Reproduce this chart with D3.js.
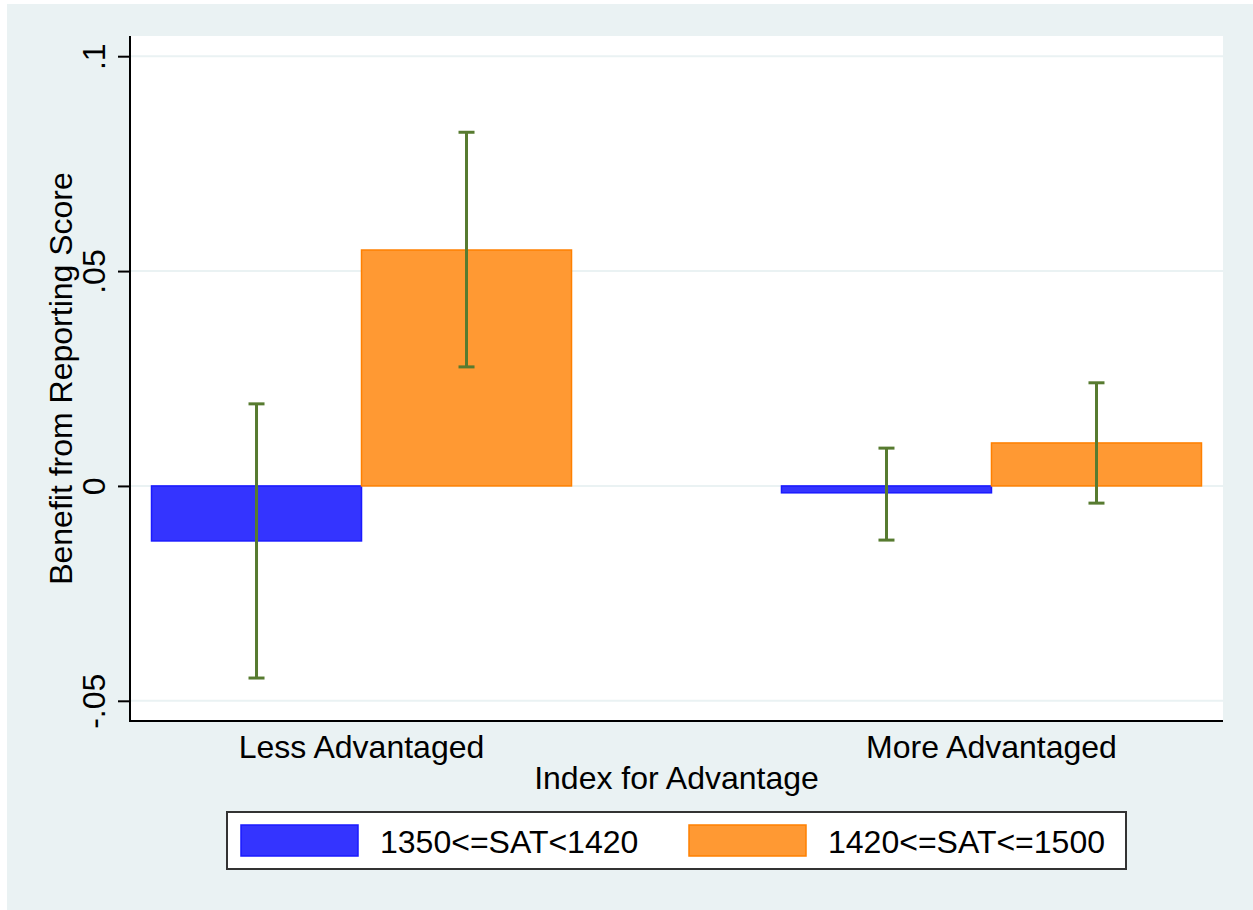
<!DOCTYPE html>
<html>
<head>
    <meta charset="utf-8">
    <script src="https://cdn.jsdelivr.net/npm/d3@7"></script>
    <style>
        body { margin: 0; background: #fff; }
        text { font-family: "Liberation Sans", Arial, sans-serif; fill: #000; }
    </style>
</head>
<body>
<svg width="1253" height="910"></svg>
<script>
    // data
    const groups = ["Less Advantaged", "More Advantaged"];
    const series = ["1350<=SAT<1420", "1420<=SAT<=1500"];
    const lowSat = [-0.0128, -0.0016];   // blue bars
    const highSat = [0.0549, 0.0100];    // orange bars
    const lowSatCiLo = [-0.0447, -0.0126];
    const lowSatCiHi = [0.0191, 0.0088];
    const highSatCiLo = [0.0277, -0.0040];
    const highSatCiHi = [0.0823, 0.0240];
    const yTicks = [-0.05, 0, 0.05, 0.1];
    const yTickLabels = ["-.05", "0", ".05", ".1"];

    const colors = [{fill: "#3434ff", stroke: "#1a1aff"}, {fill: "#ff9933", stroke: "#ff8000"}];
    const errColor = "#577b30";
    const bg = "#eaf2f3";
    const fs = "32px";

    const svg = d3.select("svg");
    const plotL = 130, plotR = 1223, plotT = 36, plotB = 721;
    const barW = 210;

    svg.append("rect").attr("x", 7).attr("y", 4).attr("width", 1246).attr("height", 906).attr("fill", bg);
    svg.append("rect").attr("x", plotL).attr("y", plotT).attr("width", plotR - plotL).attr("height", plotB - plotT).attr("fill", "#fff");

    const x = d3.scalePoint().domain(groups).range([plotL, plotR]).padding(0.3675);
    const y = d3.scaleLinear().domain([-0.0547, 0.1047]).range([plotB, plotT]);

    // grid
    svg.append("g").selectAll("line").data(yTicks).enter().append("line")
        .attr("x1", plotL).attr("x2", plotR)
        .attr("y1", d => y(d)).attr("y2", d => y(d))
        .attr("stroke", bg).attr("stroke-width", 2);

    // bars
    const rows = [];
    groups.forEach((g, i) => {
        rows.push({g: g, s: 0, v: lowSat[i], lo: lowSatCiLo[i], hi: lowSatCiHi[i]});
        rows.push({g: g, s: 1, v: highSat[i], lo: highSatCiLo[i], hi: highSatCiHi[i]});
    });
    const cx = d => x(d.g) + (d.s === 0 ? -barW / 2 : barW / 2);

    svg.append("g").selectAll("rect").data(rows).enter().append("rect")
        .attr("x", d => cx(d) - barW / 2)
        .attr("width", barW)
        .attr("y", d => y(Math.max(0, d.v)))
        .attr("height", d => Math.abs(y(d.v) - y(0)))
        .attr("fill", d => colors[d.s].fill)
        .attr("stroke", d => colors[d.s].stroke)
        .attr("stroke-width", 1.5);

    // error bars
    const eb = svg.append("g").attr("stroke", errColor).attr("stroke-width", 3);
    eb.selectAll(".v").data(rows).enter().append("line")
        .attr("x1", cx).attr("x2", cx)
        .attr("y1", d => y(d.lo)).attr("y2", d => y(d.hi));
    eb.selectAll(".capHi").data(rows).enter().append("line")
        .attr("x1", d => cx(d) - 8).attr("x2", d => cx(d) + 8)
        .attr("y1", d => y(d.hi)).attr("y2", d => y(d.hi));
    eb.selectAll(".capLo").data(rows).enter().append("line")
        .attr("x1", d => cx(d) - 8).attr("x2", d => cx(d) + 8)
        .attr("y1", d => y(d.lo)).attr("y2", d => y(d.lo));

    // y axis
    const yAxis = svg.append("g").attr("transform", `translate(${plotL},0)`)
        .call(d3.axisLeft(y).tickValues(yTicks).tickSize(12).tickFormat((d, i) => yTickLabels[i]));
    yAxis.select(".domain").attr("d", `M0,${plotT}V${plotB}`).attr("stroke", "#000").attr("stroke-width", 2);
    yAxis.selectAll(".tick line").attr("stroke", "#000").attr("stroke-width", 2);
    yAxis.selectAll(".tick text")
        .attr("x", null).attr("dy", null)
        .attr("transform", "translate(-25,0) rotate(-90)")
        .attr("text-anchor", "middle")
        .style("font-size", fs)
        .attr("fill", "#000");

    // x axis line
    svg.append("line").attr("x1", plotL - 1).attr("x2", plotR).attr("y1", plotB).attr("y2", plotB)
        .attr("stroke", "#000").attr("stroke-width", 2);

    svg.append("g").selectAll("text").data(groups).enter().append("text")
        .attr("x", d => x(d)).attr("y", 758)
        .attr("text-anchor", "middle").style("font-size", fs)
        .text(d => d);

    svg.append("text").attr("x", (plotL + plotR) / 2).attr("y", 789)
        .attr("text-anchor", "middle").style("font-size", fs)
        .text("Index for Advantage");

    svg.append("text").attr("transform", `translate(72,${(plotT + plotB) / 2}) rotate(-90)`)
        .attr("text-anchor", "middle").style("font-size", fs)
        .text("Benefit from Reporting Score");

    // legend
    const lg = svg.append("g");
    lg.append("rect").attr("x", 227).attr("y", 812).attr("width", 899).attr("height", 57)
        .attr("fill", "#fff").attr("stroke", "#333").attr("stroke-width", 2);
    const legX = [241, 689];
    series.forEach((s, i) => {
        lg.append("rect").attr("x", legX[i]).attr("y", 825).attr("width", 117).attr("height", 31)
            .attr("fill", colors[i].fill).attr("stroke", colors[i].stroke).attr("stroke-width", 1.5);
        lg.append("text").attr("x", legX[i] + 139).attr("y", 853)
            .style("font-size", fs).text(s);
    });
</script>
</body>
</html>
